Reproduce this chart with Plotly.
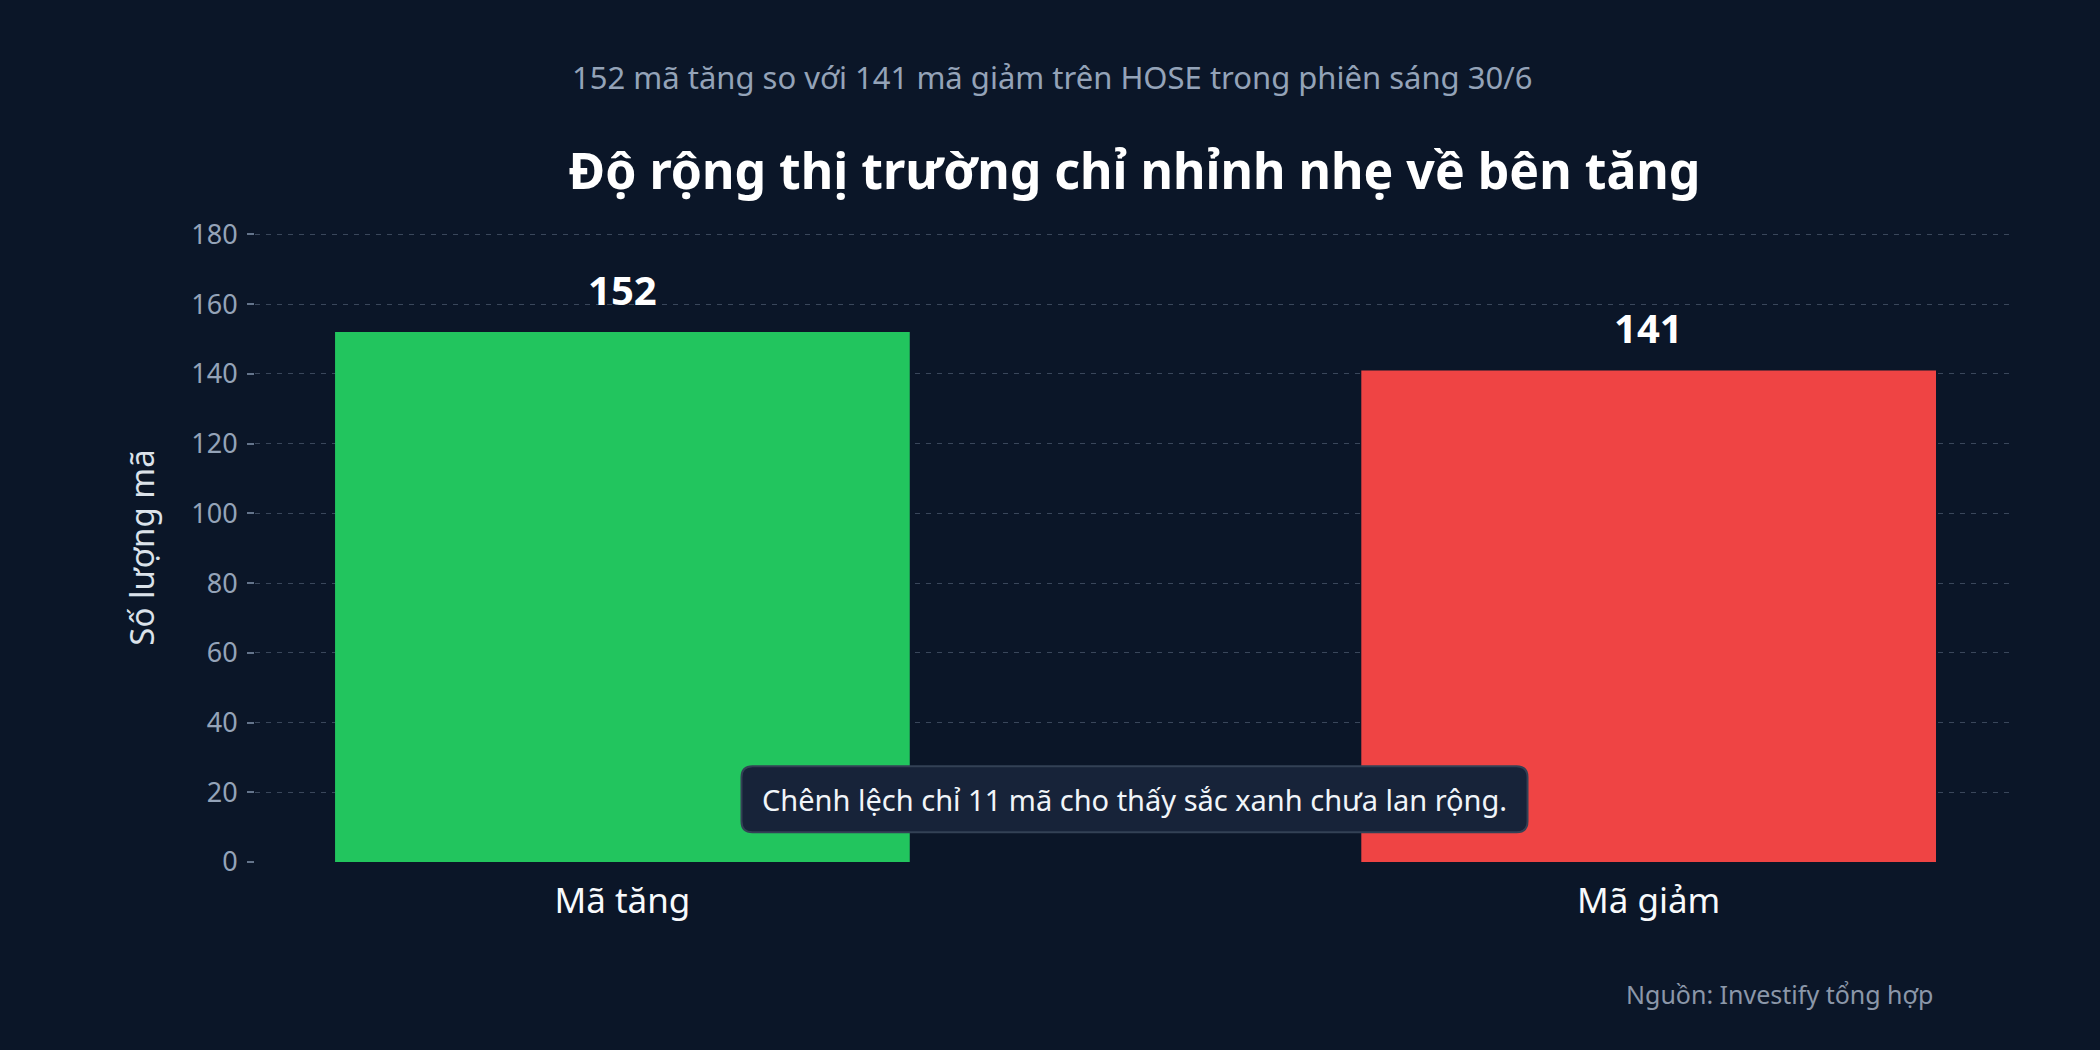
import plotly.graph_objects as go

# data
categories = ["Mã tăng", "Mã giảm"]
counts = [152, 141]
bar_colors = ["#22c55e", "#ef4444"]
y_ticks = [0, 20, 40, 60, 80, 100, 120, 140, 160, 180]

title_text = "Độ rộng thị trường chỉ nhỉnh nhẹ về bên tăng"
subtitle_text = "152 mã tăng so với 141 mã giảm trên HOSE trong phiên sáng 30/6"
note_text = "Chênh lệch chỉ 11 mã cho thấy sắc xanh chưa lan rộng."
note_y = 18
source_text = "Nguồn: Investify tổng hợp"

BG = "#0b1628"
FONT = "Noto Sans"

fig = go.Figure()
fig.add_trace(go.Bar(
    x=categories,
    y=counts,
    width=0.56,
    marker=dict(color=bar_colors, line=dict(width=0)),
    hoverinfo="x+y",
))

# value labels above bars
for cat, val in zip(categories, counts):
    fig.add_annotation(
        x=cat, y=val, text=f"<b>{val}</b>", showarrow=False,
        yanchor="bottom", yshift=13,
        font=dict(family=FONT, size=40, color="#ffffff"),
    )

# subtitle above title
fig.add_annotation(
    x=0.453, y=1.248, xref="paper", yref="paper",
    text=subtitle_text, showarrow=False, yanchor="middle",
    font=dict(family=FONT, size=31, color="#94a3b8"),
)

# note box: rounded rectangle (pixel sized) + text
hw, hh, r = 393, 33, 11
box_path = (
    f"M {-hw + r},{-hh} L {hw - r},{-hh} Q {hw},{-hh} {hw},{-hh + r} "
    f"L {hw},{hh - r} Q {hw},{hh} {hw - r},{hh} "
    f"L {-hw + r},{hh} Q {-hw},{hh} {-hw},{hh - r} "
    f"L {-hw},{-hh + r} Q {-hw},{-hh} {-hw + r},{-hh} Z"
)
fig.add_shape(
    type="path", path=box_path,
    xref="paper", yref="y", xsizemode="pixel", ysizemode="pixel",
    xanchor=0.5, yanchor=note_y,
    fillcolor="#172339", line=dict(color="#334155", width=2),
    layer="above",
)
fig.add_annotation(
    x=0.5, y=note_y, xref="paper", yref="y",
    text=note_text, showarrow=False, yanchor="middle",
    font=dict(family=FONT, size=29, color="#f1f5f9"),
)

# source
fig.add_annotation(
    x=0.955, y=-0.21, xref="paper", yref="paper",
    text=source_text, showarrow=False, xanchor="right", yanchor="middle",
    font=dict(family=FONT, size=25, color="#8b97a9"),
)

fig.update_layout(
    width=2100, height=1050,
    paper_bgcolor=BG, plot_bgcolor=BG,
    margin=dict(l=255, r=86, t=233, b=188),
    showlegend=False,
    font=dict(family=FONT, color="#e2e8f0"),
    title=dict(
        text=f"<b>{title_text}</b>",
        x=0.5, xref="paper", xanchor="center",
        y=1 - 171 / 1050, yref="container", yanchor="middle",
        font=dict(family=FONT, size=50, color="#ffffff"),
    ),
)

fig.update_xaxes(
    range=[-0.358, 1.356],
    showgrid=False, zeroline=False, showline=False, ticks="",
    tickfont=dict(family=FONT, size=35, color="#f8fafc"),
    ticklabelstandoff=15,
)

fig.update_yaxes(
    range=[0, 180.4], tickvals=y_ticks,
    showgrid=True, gridcolor="#3a475b", gridwidth=1, griddash="5px,6px",
    zeroline=False, showline=False,
    ticks="outside", ticklen=7, tickcolor="#64748b", tickwidth=2,
    tickfont=dict(family=FONT, size=27, color="#94a3b8"),
    ticklabelstandoff=4,
    title=dict(text="Số lượng mã", standoff=26,
               font=dict(family=FONT, size=33, color="#dbe2ea")),
)

fig.write_html(
    "out.html",
    config={"displayModeBar": False},
    post_script="document.body.style.margin='0';document.body.style.background='#0b1628';",
)
